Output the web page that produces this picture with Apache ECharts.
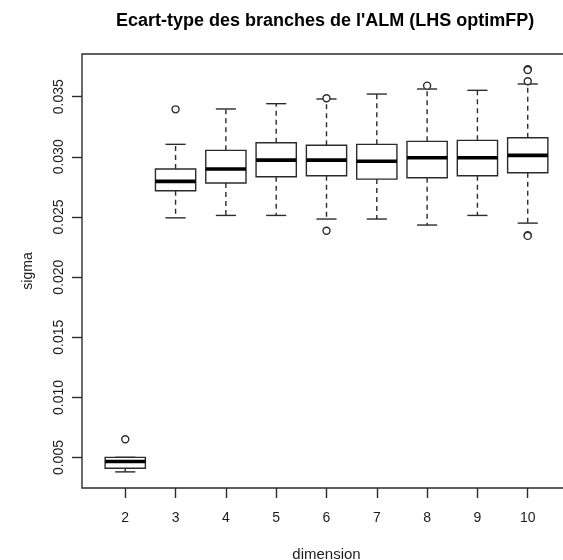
<!DOCTYPE html>
<html>
<head>
<meta charset="utf-8">
<title>Ecart-type des branches de l'ALM</title>
<script src="https://cdn.jsdelivr.net/npm/echarts@6/dist/echarts.min.js"></script>
<style>
  html, body { margin: 0; padding: 0; background: #ffffff; }
  #chart { width: 563px; height: 560px; }
</style>
</head>
<body>
<div id="chart"></div>
<script>
// Box statistics of sigma for each dimension (whiskers, quartiles, median)
const dimensions   = [2, 3, 4, 5, 6, 7, 8, 9, 10];
const lowerWhisker = [0.00381, 0.02493, 0.02513, 0.02513, 0.02483, 0.02483, 0.02433, 0.02513, 0.02449];
const lowerQuart   = [0.00411, 0.02718, 0.02782, 0.02834, 0.02843, 0.02815, 0.02826, 0.02843, 0.02868];
const medians      = [0.00467, 0.02796, 0.02899, 0.02973, 0.02973, 0.02963, 0.02993, 0.02993, 0.03012];
const upperQuart   = [0.00502, 0.02899, 0.03054, 0.03117, 0.03096, 0.03104, 0.03129, 0.03137, 0.03159];
const upperWhisker = [0.00502, 0.03104, 0.03398, 0.03442, 0.03481, 0.03522, 0.03564, 0.03553, 0.03606];

// Points beyond the whiskers: [dimension, sigma]
const outliers = [
  [2, 0.00652],
  [3, 0.03395],
  [6, 0.03487], [6, 0.02385],
  [8, 0.03592],
  [10, 0.03728], [10, 0.03722], [10, 0.03628],
  [10, 0.02349], [10, 0.02343]
];

const yTicks = [0.005, 0.010, 0.015, 0.020, 0.025, 0.030, 0.035];

const ink = '#2b2b2b';
const textColor = '#1c1c1c';
const font = "'Liberation Sans', Arial, sans-serif";

const boxData = dimensions.map((d, i) => [
  d, lowerWhisker[i], lowerQuart[i], medians[i], upperQuart[i], upperWhisker[i]
]);

function renderBox(params, api) {
  const x = api.value(0);
  const lo = api.coord([x, api.value(1)]);
  const q1 = api.coord([x, api.value(2)]);
  const md = api.coord([x, api.value(3)]);
  const q3 = api.coord([x, api.value(4)]);
  const hi = api.coord([x, api.value(5)]);
  const cx = lo[0];
  const bw = api.size([0.8, 0])[0];
  const cw = bw / 2;
  const thin = { stroke: ink, lineWidth: 1.4, fill: null };
  const dashed = { stroke: ink, lineWidth: 1.4, lineDash: [5, 4], fill: null };
  return {
    type: 'group',
    children: [
      { type: 'line', shape: { x1: cx, y1: q1[1], x2: cx, y2: lo[1] }, style: dashed },
      { type: 'line', shape: { x1: cx, y1: q3[1], x2: cx, y2: hi[1] }, style: dashed },
      { type: 'line', shape: { x1: cx - cw / 2, y1: lo[1], x2: cx + cw / 2, y2: lo[1] }, style: thin },
      { type: 'line', shape: { x1: cx - cw / 2, y1: hi[1], x2: cx + cw / 2, y2: hi[1] }, style: thin },
      { type: 'rect', shape: { x: cx - bw / 2, y: q3[1], width: bw, height: q1[1] - q3[1] },
        style: { stroke: ink, lineWidth: 1.4, fill: '#ffffff' } },
      { type: 'line', shape: { x1: cx - bw / 2, y1: md[1], x2: cx + bw / 2, y2: md[1] },
        style: { stroke: '#000000', lineWidth: 3.6 } }
    ]
  };
}

const chart = echarts.init(document.getElementById('chart'), null, { renderer: 'canvas' });

chart.setOption({
  backgroundColor: '#ffffff',
  animation: false,
  title: {
    text: "Ecart-type des branches de l'ALM (LHS optimFP)",
    left: 111,
    top: 7,
    textStyle: { fontFamily: font, fontSize: 18, fontWeight: 'bold', color: '#000000' }
  },
  grid: {
    left: 82, top: 54, right: -8, bottom: 72,
    outerBoundsMode: 'none',
    containLabel: false,
    show: true, borderColor: ink, borderWidth: 1.4, backgroundColor: 'transparent'
  },
  xAxis: {
    type: 'value',
    min: 1.14,
    max: 10.86,
    name: 'dimension',
    nameLocation: 'middle',
    nameGap: 59,
    nameTextStyle: { fontFamily: font, fontSize: 15, color: textColor },
    axisLine: { show: false },
    splitLine: { show: false },
    axisTick: { show: true, length: 10, customValues: dimensions, lineStyle: { color: ink, width: 1.4 } },
    axisLabel: {
      customValues: dimensions, margin: 23,
      fontFamily: font, fontSize: 14, color: textColor
    }
  },
  yAxis: {
    type: 'value',
    min: 0.00247,
    max: 0.03855,
    name: 'sigma',
    nameLocation: 'middle',
    nameRotate: 90,
    nameGap: 47,
    nameTextStyle: { fontFamily: font, fontSize: 14, color: textColor },
    axisLine: { show: false },
    splitLine: { show: false },
    axisTick: { show: true, length: 10, customValues: yTicks, lineStyle: { color: ink, width: 1.4 } },
    axisLabel: {
      customValues: yTicks, rotate: 90, margin: 16,
      fontFamily: font, fontSize: 14, color: textColor,
      formatter: v => v.toFixed(3)
    }
  },
  series: [
    {
      type: 'custom',
      renderItem: renderBox,
      data: boxData,
      encode: { x: 0, y: [1, 2, 3, 4, 5] },
      z: 2
    },
    {
      type: 'scatter',
      data: outliers,
      symbol: 'circle',
      symbolSize: 7,
      itemStyle: { color: '#ffffff', borderColor: ink, borderWidth: 1.4, opacity: 1 },
      z: 3
    }
  ]
});
</script>
</body>
</html>
